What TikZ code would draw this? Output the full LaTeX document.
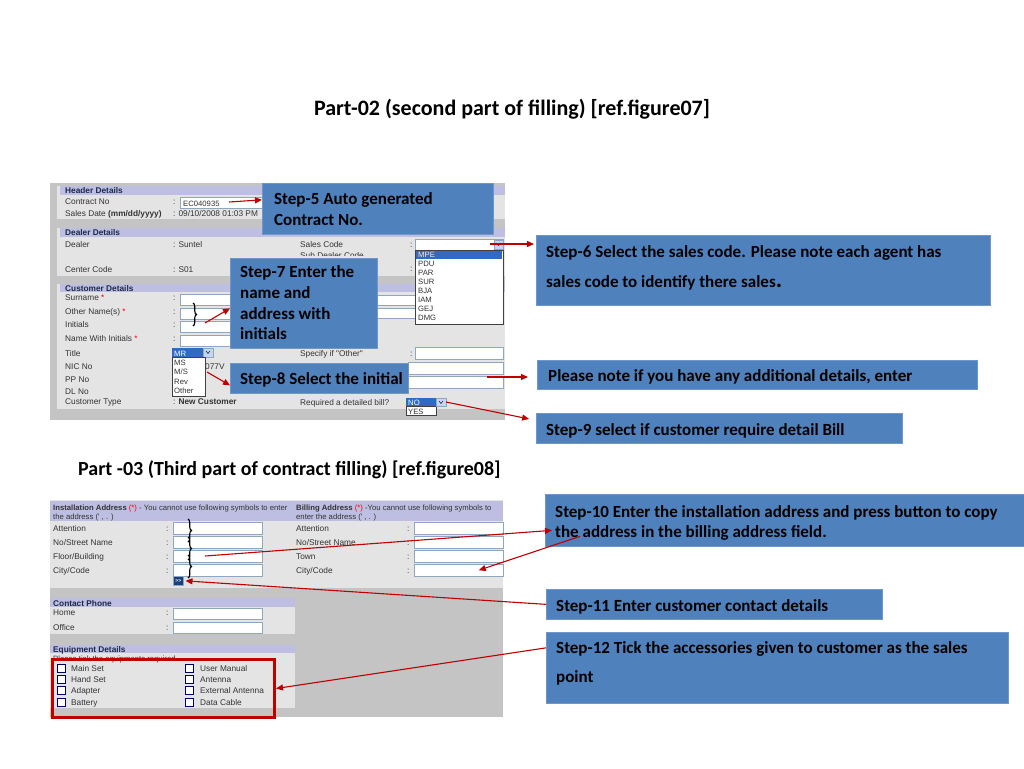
\documentclass[tikz,border=0pt]{standalone}
\usepackage{fontspec}
\setmainfont{Carlito}
\newfontfamily\uifont{Liberation Sans}
\usetikzlibrary{arrows.meta,decorations.pathreplacing}
\definecolor{stepblue}{HTML}{4F81BD}
\definecolor{stepedge}{HTML}{6E98CC}
\definecolor{arrred}{HTML}{C00000}
\definecolor{panelbg}{HTML}{C4C4C4}
\definecolor{seclight}{HTML}{E4E4E4}
\definecolor{bandc}{HTML}{BEBEE2}
\definecolor{hilite}{HTML}{316AC5}
\definecolor{fedge}{HTML}{8FA6C0}
\definecolor{btnc}{HTML}{C6D5F2}
\definecolor{navy}{HTML}{1B2A4A}
\definecolor{btnblue}{HTML}{17417A}
\tikzset{
 stepbox/.style={fill=stepblue, draw=stepedge, line width=0.7pt, anchor=north west, inner sep=0pt},
 steptxt/.style={anchor=base west, inner sep=0pt, text=black, font=\bfseries\fontsize{17}{20}\selectfont},
 lbl/.style={anchor=base west, inner sep=0pt, text=black!80, font=\uifont\fontsize{8.3}{9}\selectfont},
 lbls/.style={anchor=base west, inner sep=0pt, text=black!80, font=\uifont\fontsize{7.7}{9}\selectfont},
 lblb/.style={anchor=base west, inner sep=0pt, text=navy, font=\uifont\bfseries\fontsize{8.3}{9}\selectfont},
 fieldbox/.style={fill=white, draw=fedge, line width=0.5pt},
 fieldnode/.style={fill=white, draw=fedge, line width=0.5pt, anchor=north west, inner sep=0pt},
 listbox/.style={fill=white, draw=black!75, line width=0.5pt},
 chk/.style={fill=white, draw=black!60!blue, line width=0.5pt},
 ddbtn/.style={fill=btnc, draw=fedge, line width=0.4pt},
 arr/.style={draw=arrred, line width=1.1pt, -{Triangle[length=7pt,width=6pt]}},
 bracepath/.style={draw=black, line width=1.1pt, decorate, decoration={brace, amplitude=3.5pt}},
}
\begin{document}
\begin{tikzpicture}[x=1pt,y=-1pt]
\useasboundingbox (0,0) rectangle (1024,768);
\fill[white] (0,0) rectangle (1024,768);

% ---------- titles ----------
\node[anchor=base, inner sep=0pt, font=\bfseries\fontsize{22}{26}\selectfont] (title) at (512,115) {Part-02 (second part of filling) [ref.figure07]};
\node[anchor=base west, inner sep=0pt, font=\bfseries\fontsize{20}{24}\selectfont] (title2) at (78,475) {Part -03 (Third part of contract filling) [ref.figure08]};

% ---------- form 1 ----------
\fill[panelbg] (50,183) rectangle (505,420);
\fill[seclight] (57,186) rectangle (505,219);
\fill[bandc] (60,186) rectangle (505,195);
\fill[seclight] (57,228) rectangle (505,276);
\fill[bandc] (60,228) rectangle (505,237);
\fill[seclight] (57,284) rectangle (505,409);
\fill[bandc] (60,284) rectangle (505,292);

\node[fieldnode, minimum width=82pt, minimum height=11pt] (fcontract) at (180,197) {};
\node[lbls] (vcontract) at (183,206) {EC040935};
\foreach \b in {300,314,327,341} \draw[fieldbox] (180,\b-6) rectangle (300,\b+5);
\draw[fieldbox] (300,295) rectangle (415,305);
\draw[fieldbox] (300,308) rectangle (415,318);
\draw[fieldbox] (415,347) rectangle (503,359);
\draw[fieldbox] (408,362) rectangle (503,374);
\draw[fieldbox] (408,376) rectangle (503,388);
\draw[fieldbox] (415,239) rectangle (503,250);
\draw[ddbtn] (494,240) rectangle (503,249);
\draw[navy, line width=0.6pt] (496.5,243) -- (498.5,245.5) -- (500.5,243);

\node[lblb] (hd1) at (65,193) {Header Details};
\node[lbl] (l1) at (65,204) {Contract No};
\node[lbl] (l2) at (65,216) {Sales Date \textbf{(mm/dd/yyyy)}};
\node[lbl] (c1) at (173,204) {:};
\node[lbl] (c2) at (173,216) {: 09/10/2008 01:03 PM};
\node[lblb] (hd2) at (65,235) {Dealer Details};
\node[lbl] (l3) at (65,247) {Dealer};
\node[lbl] (c3) at (173,247) {: Suntel};
\node[lbl] (r1) at (300,247) {Sales Code};
\node[lbl] (rc1) at (410,247) {:};
\begin{scope}
\clip (295,249) rectangle (412,255.5);
\node[lbl] (r2) at (300,258) {Sub Dealer Code};
\end{scope}
\node[lbl] (rc2) at (410,271) {:};
\node[lbl] (l4) at (65,272) {Center Code};
\node[lbl] (c4) at (173,272) {: S01};
\node[lblb] (hd3) at (65,291) {Customer Details};
\node[lbl] (l5) at (65,300) {Surname \textcolor{red}{*}};
\node[lbl] (l6) at (65,314) {Other Name(s) \textcolor{red}{*}};
\node[lbl] (l7) at (65,327) {Initials};
\node[lbl] (l8) at (65,341) {Name With Initials \textcolor{red}{*}};
\node[lbl] (l9) at (65,356) {Title};
\node[lbl] (l10) at (65,369) {NIC No};
\node[lbl] (l11) at (65,382) {PP No};
\node[lbl] (l12) at (65,394.5) {DL No};
\node[lbl] (l13) at (65,404) {Customer Type};
\foreach \b [count=\i] in {300,314,327,341} \node[lbl] (cc\i) at (173,\b) {:};
\node[lbl] (c5) at (173,404) {: \textbf{New Customer}};
\node[lbl] (nic) at (205,369) {077V};
\node[lbl] (r3) at (300,356) {Specify if "Other"};
\node[lbl] (rc3) at (410,356) {:};
\node[lbl] (r4) at (300,405) {Required a detailed bill?};
\draw[bracepath] (193,303) -- (193,326);

% sales code list
\draw[listbox] (415,250) rectangle (503,324);
\fill[hilite] (416,251) rectangle (502,258.5);
\foreach \t [count=\i] in {MPE,PDU,PAR,SUR,BJA,IAM,GEJ,DMG}
  \node[lbls] (sc\i) at (418,248+9*\i) {\t};
\node[lbls, text=white] (scsel) at (418,257) {MPE};

% title list
\fill[hilite] (172,348) rectangle (203,357);
\node[lbls, text=white] (mr) at (174,356) {MR};
\draw[ddbtn] (203,348) rectangle (213,357);
\draw[navy, line width=0.6pt] (206,351) -- (208,353.5) -- (210,351);
\draw[listbox] (172,357) rectangle (205,396);
\node[lbls] (tl1) at (174,365) {MS};
\node[lbls] (tl2) at (174,374) {M/S};
\node[lbls] (tl3) at (174,384) {Rev};
\node[lbls] (tl4) at (174,393) {Other};

% NO / YES list
\fill[hilite] (406,398) rectangle (436,406);
\node[lbls, text=white] (no) at (408,405) {NO};
\draw[listbox] (406,406) rectangle (436,415);
\node[lbls] (yes) at (408,414) {YES};
\draw[ddbtn] (436,398) rectangle (446,406);
\draw[navy, line width=0.6pt] (439,401) -- (441,403.5) -- (443,401);

% ---------- form 2 ----------
\fill[panelbg] (50,500) rectangle (503,717);
\fill[seclight] (50,500) rectangle (503,588);
\fill[bandc] (50,501) rectangle (503,521);
\fill[seclight] (50,598) rectangle (295,634);
\fill[bandc] (50,598) rectangle (295,607);
\fill[seclight] (50,645) rectangle (295,708);
\fill[bandc] (50,645) rectangle (295,653);

\node[lbls] (ia1) at (53,510) {\textbf{Installation Address} \textcolor{red}{(*)} - You cannot use following symbols to enter};
\node[lbls] (ia2) at (53,519) {the address (' , . )};
\node[lbls] (ba1) at (296,510) {\textbf{Billing Address} \textcolor{red}{(*)} -You cannot use following symbols to};
\node[lbls] (ba2) at (296,519) {enter the address (' , . )};
\foreach \t/\b [count=\i] in {Attention/531,No\slash Street Name/545,Floor\slash Building/559,City\slash Code/573}{
  \node[lbl] (il\i) at (53,\b) {\t};
  \node[lbl] (ic\i) at (166,\b) {:};
  \draw[fieldbox] (173,\b-9) rectangle (262,\b+3);
}
\foreach \t/\b [count=\i] in {Attention/531,No\slash Street Name/545,Town/559}{
  \node[lbl] (bl\i) at (296,\b) {\t};
  \node[lbl] (bc\i) at (407,\b) {:};
  \draw[fieldbox] (414,\b-9) rectangle (503,\b+3);
}
\node[lbl] (bl4) at (296,573) {City/Code};
\node[lbl] (bc4) at (407,573) {:};
\node[fieldnode, minimum width=89pt, minimum height=12pt] (bcity) at (414,564) {};
\draw[bracepath] (188,519) -- (188,542);
\draw[bracepath] (188,537) -- (188,560);
\draw[bracepath] (188,555) -- (188,578);
\node[fill=btnblue, draw=fedge, line width=0.5pt, anchor=north west, minimum width=10pt, minimum height=9pt, inner sep=0pt, text=white, font=\uifont\bfseries\fontsize{5}{5}\selectfont] (btn) at (173,576) {{>}{>}};

\node[lblb] (cp) at (53,606) {Contact Phone};
\node[lbl] (h1) at (53,615) {Home};
\node[lbl] (h1c) at (166,615) {:};
\draw[fieldbox] (173,608) rectangle (262,619);
\node[lbl] (o1) at (53,630) {Office};
\node[lbl] (o1c) at (166,630) {:};
\draw[fieldbox] (173,622) rectangle (262,633);
\node[lblb] (ed) at (53,652) {Equipment Details};
\node[lbls] (pt) at (53,661) {Please tick the equipments required.};
\foreach \a/\bb/\c [count=\i] in {Main Set/User Manual/668,Hand Set/Antenna/679,Adapter/External Antenna/690,Battery/Data Cable/702}{
  \draw[chk] (57,\c-4) rectangle (65,\c+4);
  \node[lbl] (eqa\i) at (71,\c+3) {\a};
  \draw[chk] (185,\c-4) rectangle (193,\c+4);
  \node[lbl] (eqb\i) at (200,\c+3) {\bb};
}
\node[draw=arrred, line width=3pt, anchor=north west, minimum width=222pt, minimum height=58pt, inner sep=0pt] (rb) at (51,658) {};

% ---------- step boxes ----------
\node[stepbox, minimum width=231pt, minimum height=51pt] (s5) at (262,183) {};
\node[steptxt] (t5a) at (274,204.5) {Step-5 Auto generated};
\node[steptxt] (t5b) at (274,225.5) {Contract No.};

\node[stepbox, minimum width=454pt, minimum height=70pt] (s6) at (536,235) {};
\node[steptxt] (t6a) at (546,257.5) {Step-6 Select the sales code. Please note each agent has};
\node[steptxt] (t6b) at (546,287.5) {sales code to identify there sales{\fontsize{24}{24}\selectfont .}};

\node[stepbox, minimum width=147pt, minimum height=90pt] (s7) at (230,258) {};
\node[steptxt] (t7a) at (240,277.5) {Step-7 Enter the};
\node[steptxt] (t7b) at (240,298.5) {name and};
\node[steptxt] (t7c) at (240,319.5) {address with};
\node[steptxt] (t7d) at (240,339.5) {initials};

\node[stepbox, minimum width=178pt, minimum height=30pt] (s8) at (230,363) {};
\node[steptxt] (t8) at (240,384.5) {Step-8 Select the initial};

\node[stepbox, minimum width=440pt, minimum height=29pt] (sN) at (537,360) {};
\node[steptxt] (tN) at (548,381.5) {Please note if you have any additional details, enter};

\node[stepbox, minimum width=366pt, minimum height=30pt] (s9) at (536,413) {};
\node[steptxt] (t9) at (546,435.5) {Step-9 select if customer require detail Bill};

\node[stepbox, minimum width=482pt, minimum height=52pt] (s10) at (545,494) {};
\node[steptxt] (t10a) at (555,517.5) {Step-10 Enter the installation address and press button to copy};
\node[steptxt] (t10b) at (555,537.5) {the address in the billing address field.};

\node[stepbox, minimum width=336pt, minimum height=30pt] (s11) at (546,589) {};
\node[steptxt] (t11) at (556,611.5) {Step-11 Enter customer contact details};

\node[stepbox, minimum width=462pt, minimum height=71pt] (s12) at (546,632) {};
\node[steptxt] (t12a) at (556,653.5) {Step-12 Tick the accessories given to customer as the sales};
\node[steptxt] (t12b) at (556,682.5) {point};

% ---------- arrows ----------
\coordinate (a5) at (229,202);
\draw[arr] (a5) -- ([yshift=9pt]s5.west);
\coordinate (a6) at (490,244);
\draw[arr, shorten >=2pt] (a6) -- (a6 -| s6.west);
\coordinate (a7) at (205,323);
\draw[arr] (a7) -- ([yshift=-5pt]s7.west);
\coordinate (a8) at (207,372);
\draw[arr] (a8) -- ([yshift=-7pt]s8.west);
\coordinate (aN) at (487,377);
\draw[arr, shorten >=9pt] (aN) -- (aN -| sN.west);
\coordinate (a9) at (446,402);
\draw[arr, shorten >=7pt] (a9) -- ([yshift=8pt]s9.west);
\coordinate (a10) at (205,556);
\draw[arr] (a10) -- ([xshift=7pt,yshift=-10pt]s10.west);
\draw[arr] ([xshift=35pt,yshift=-16pt]s10.west) -- ([xshift=20pt]bcity.center);
\draw[arr, shorten >=2pt] (s11.west) -- (btn.east);
\draw[arr] ([yshift=20pt]s12.west) -- (rb.east);
\end{tikzpicture}
\end{document}
